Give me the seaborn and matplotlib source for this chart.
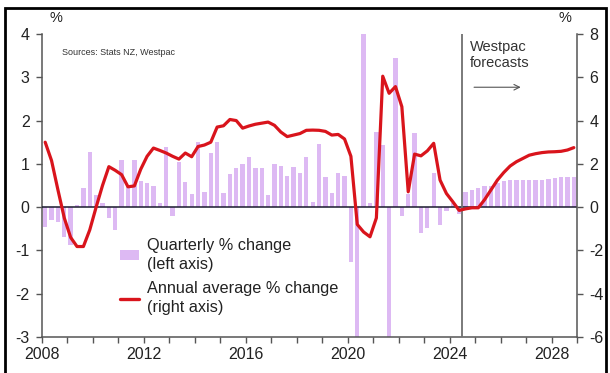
import numpy as np
import pandas as pd
import matplotlib
matplotlib.use("Agg")
import matplotlib.pyplot as plt
from matplotlib.patches import Patch, Rectangle
from matplotlib.lines import Line2D
import seaborn as sns

# ---------------- data ----------------
start_year = 2008
forecast_start = 2024.5
year_ticks = [2008, 2012, 2016, 2020, 2024, 2028]
left_ticks = [-3, -2, -1, 0, 1, 2, 3, 4]
right_ticks = [-6, -4, -2, 0, 2, 4, 6, 8]

# quarterly % change (left axis), 2008Q1 .. 2028Q4
quarterly_change = [
    -0.45, -0.30, -0.35, -0.68,   # 2008
    -0.87, 0.05, 0.45, 1.28,      # 2009
    0.28, 0.10, -0.25, -0.53,     # 2010
    1.08, 0.50, 1.08, 0.60,       # 2011
    0.55, 0.50, 0.10, 1.40,       # 2012
    -0.20, 1.05, 0.57, 0.30,      # 2013
    1.50, 0.36, 1.25, 1.50,       # 2014
    0.33, 0.77, 0.90, 1.00,       # 2015
    1.15, 0.90, 0.90, 0.27,       # 2016
    1.00, 0.95, 0.72, 0.93,       # 2017
    0.80, 1.15, 0.12, 1.45,       # 2018
    0.70, 0.33, 0.80, 0.72,       # 2019
    -1.27, -10.0, 13.9, 0.10,     # 2020
    1.74, 1.43, -3.70, 3.44,      # 2021
    -0.20, 0.30, 1.72, -0.60,     # 2022
    -0.48, 0.79, -0.41, -0.10,    # 2023
    0.10, -0.15, 0.35, 0.40,      # 2024
    0.45, 0.48, 0.50, 0.55,       # 2025
    0.60, 0.62, 0.62, 0.62,       # 2026
    0.62, 0.62, 0.62, 0.65,       # 2027
    0.68, 0.70, 0.70, 0.70,       # 2028
]

# annual average % change (right axis), 2008Q1 .. 2028Q4
annual_avg_change = [
    3.00, 2.15, 0.80, -0.50,
    -1.40, -1.82, -1.82, -1.05,
    0.00, 1.00, 1.87, 1.70,
    1.50, 0.94, 0.98, 1.75,
    2.35, 2.73, 2.62, 2.50,
    2.35, 2.22, 2.50, 2.33,
    2.80, 2.87, 3.00, 3.70,
    3.76, 4.05, 4.00, 3.65,
    3.75, 3.83, 3.88, 3.93,
    3.78, 3.47, 3.26, 3.33,
    3.40, 3.55, 3.56, 3.55,
    3.50, 3.33, 3.36, 3.15,
    2.35, -0.80, -1.15, -1.37,
    -0.50, 6.05, 5.26, 5.57,
    4.64, 0.71, 2.45, 2.37,
    2.60, 2.95, 1.25, 0.63,
    0.25, -0.15, -0.08, -0.03,
    -0.03, 0.35, 0.80, 1.25,
    1.60, 1.90, 2.10, 2.25,
    2.40, 2.47, 2.52, 2.55,
    2.56, 2.58, 2.64, 2.75,
]

n = len(quarterly_change)
df = pd.DataFrame({
    "date": start_year + np.arange(n) * 0.25 + 0.125,
    "quarterly": quarterly_change,
    "annual": annual_avg_change,
})

# ---------------- style ----------------
sns.set_style("white")
plt.rcParams["font.family"] = ["Liberation Sans", "DejaVu Sans"]

bar_color = "#DDB9F3"
line_color = "#D9141C"
text_color = "#222222"
axis_color = "#555555"

fig = plt.figure(figsize=(6.1, 3.73), dpi=100)
ax = fig.add_axes([42 / 610, 36 / 373, 535 / 610, 303 / 373])

sns.barplot(data=df, x="date", y="quarterly", native_scale=True, width=0.68,
            color=bar_color, saturation=1, linewidth=0, ax=ax, zorder=1)
ax.set_xlim(2008, 2029)
ax.set_ylim(-3, 4)
ax.axhline(0, color="#1a1a2e", lw=1.1, zorder=3)

ax2 = ax.twinx()
sns.lineplot(data=df, x="date", y="annual", color=line_color, lw=2.3, ax=ax2, zorder=5)
ax2.set_ylim(-6, 8)
ax2.set_xlim(2008, 2029)

# forecast divider
ax.axvline(forecast_start, color="#707070", lw=1.3, zorder=4)

# axes cosmetics
for a in (ax, ax2):
    a.set_xlabel("")
    a.set_ylabel("")
    a.spines["top"].set_visible(False)
    for s in ("left", "right", "bottom"):
        a.spines[s].set_color(axis_color)
        a.spines[s].set_linewidth(1.1)
ax.spines["right"].set_visible(False)
ax2.spines["left"].set_visible(False)
ax2.spines["bottom"].set_visible(False)

ax.set_yticks(left_ticks)
ax.set_yticklabels([str(t) for t in left_ticks])
ax2.set_yticks(right_ticks)
ax2.set_yticklabels([str(t) for t in right_ticks])
ax.set_xticks(year_ticks)
ax.set_xticklabels([str(t) for t in year_ticks])
ax.set_xticks(np.arange(2008, 2030), minor=True)

ax.tick_params(axis="y", which="major", direction="out", length=4, width=1.0,
               color=axis_color, labelsize=11.5, labelcolor=text_color, pad=5, left=True)
ax2.tick_params(axis="y", which="major", direction="out", length=4, width=1.0,
                color=axis_color, labelsize=11.5, labelcolor=text_color, pad=5, right=True)
ax.tick_params(axis="x", which="both", direction="out", length=4, width=1.0,
               color=axis_color, labelsize=11.5, labelcolor=text_color, pad=3, bottom=True)
ax.grid(False)
ax2.grid(False)

# texts
fig.text(50 / 610, 1 - 18 / 373, "%", fontsize=10.5, color=text_color, ha="left", va="center")
fig.text(565 / 610, 1 - 18 / 373, "%", fontsize=10.5, color=text_color, ha="center", va="center")
ax.text(0.037, 0.94, "Sources: Stats NZ, Westpac", transform=ax.transAxes,
        fontsize=6.5, color="#333333", ha="left", va="center")
ax.text(2024.8, 3.85, "Westpac\nforecasts", fontsize=10.5, color="#333333",
        ha="left", va="top", linespacing=1.1)
ax.annotate("", xy=(2026.9, 2.77), xytext=(2024.85, 2.77),
            arrowprops=dict(arrowstyle="->", color="#555555", lw=0.8))

# legend
handles = [Patch(facecolor=bar_color, edgecolor="none"),
           Line2D([0], [0], color=line_color, lw=2.4)]
labels = ["Quarterly % change\n(left axis)", "Annual average % change\n(right axis)"]
leg = ax2.legend(handles, labels, loc="upper left", bbox_to_anchor=(0.118, 0.375),
                 frameon=False, fontsize=11.7, handlelength=1.2, handleheight=0.5,
                 handletextpad=0.5, labelspacing=0.6, labelcolor=text_color)
for t in leg.get_texts():
    t.set_linespacing(1.3)
leg.set_zorder(10)

# outer frame
fig.patches.append(Rectangle((5 / 610, -0.01), 601 / 610, (373 - 8) / 373 + 0.01,
                             transform=fig.transFigure, fill=False,
                             edgecolor="black", lw=2.0))

fig.savefig("out.png", dpi=100)
